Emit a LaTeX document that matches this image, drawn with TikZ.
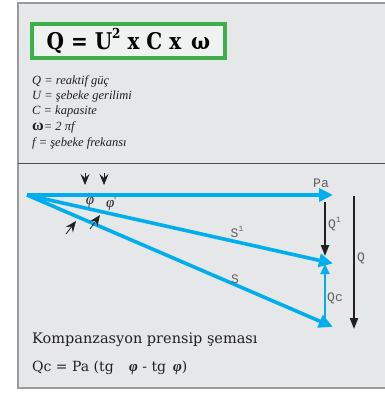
\documentclass[tikz,border=0pt]{standalone}
\usepackage{fontspec}
\setmainfont{DejaVu Serif}
\newfontfamily\legfont{Liberation Serif}
\newfontfamily\monof{Liberation Mono}
\newfontfamily\titlef{DejaVu Serif}
\usetikzlibrary{arrows.meta}
\definecolor{bgc}{HTML}{E6E7E8}
\definecolor{bordc}{HTML}{9A9A9A}
\definecolor{grn}{HTML}{3DAE49}
\definecolor{vblue}{HTML}{00AEEF}
\definecolor{dark}{HTML}{231F20}
\definecolor{lbl}{HTML}{5F5F5F}
\begin{document}
\begin{tikzpicture}[x=1pt,y=-1pt,
  vec/.style={vblue,line width=3.6pt,-{Triangle[length=14pt,width=13pt]},shorten >=-2pt},
  qvec/.style={vblue,line width=2pt,-{Triangle[length=10pt,width=9pt]}},
  bvec/.style={dark,line width=2pt,-{Triangle[length=11pt,width=8pt]}},
  tip/.style={dark,line width=0.8pt,-{Stealth[length=11pt,width=9pt,inset=4pt]}},
  leg/.style={anchor=west,inner sep=0pt,font=\legfont\itshape\fontsize{12.5}{13}\selectfont,text=dark},
  mono/.style={inner sep=0pt,font=\monof\fontsize{13}{13}\selectfont,text=lbl},
  phil/.style={inner sep=0pt,font=\legfont\itshape\fontsize{15}{15}\selectfont,text=dark}]
\useasboundingbox (0,0) rectangle (385,394);
\fill[white] (0,0) rectangle (385,394);
% outer panel
\fill[bgc] (18,3) rectangle (386,388);
\draw[bordc,line width=2.2pt] (386,3) -- (18,3) -- (18,388) -- (386,388);
\draw[dark!80,line width=1.2pt] (18,163.5) -- (386,163.5);
% title box
\node[draw=grn,line width=4pt,fill=bgc!60,minimum width=193pt,minimum height=34pt,inner sep=0pt] (title) at (128.5,41)
  {\scalebox{1}[1.15]{\titlef\bfseries\fontsize{20}{20}\selectfont Q = U\raisebox{0.45em}{\fontsize{12}{12}\selectfont 2} x C x\hspace{0.5em}ω}};
% legend
\node[leg] (l1) at (32,81) {Q = reaktif güç};
\node[leg] (l2) at (32,96) {U = şebeke gerilimi};
\node[leg] (l3) at (32,111) {C = kapasite};
\node[leg] (l4) at (32,127) {{\upshape\bfseries\fontsize{16}{16}\selectfont ω}= 2 \textit{π}f};
\node[leg] (l5) at (32,143) {f = şebeke frekansı};
% vector diagram
\coordinate (O) at (27,195);
\coordinate (PaE) at (331,195);
\coordinate (S1E) at (331,263);
\coordinate (SE) at (331,326);
\draw[vec] (O) -- (PaE);
\draw[vec] (O) -- (S1E);
\draw[vec] (O) -- (SE);
\coordinate (q1a) at (325,202);
\coordinate (q1b) at (325,256);
\draw[bvec] (q1a) -- (q1b);
\coordinate (qa) at (354,196);
\coordinate (qb) at (354,329);
\draw[bvec] (qa) -- (qb);
\coordinate (qca) at (325,318);
\coordinate (qcb) at (325,264);
\draw[qvec] (qca) -- (qcb);
% labels
\node[mono] (pa) at (321,183) {Pa};
\node[mono] (s1) at (237,232) {S\raisebox{0.45em}{\fontsize{8}{8}\selectfont 1}};
\node[mono] (s) at (235,279) {S};
\node[mono,anchor=west] (q1) at (328,224) {Q\raisebox{0.45em}{\fontsize{8}{8}\selectfont 1}};
\node[mono,anchor=west] (q) at (357,258) {Q};
\node[mono,anchor=west] (qc) at (327,298) {Qc};
% angle markers
\coordinate (m1a) at (85,173);
\coordinate (m1b) at (85,185);
\coordinate (m2a) at (104,173);
\coordinate (m2b) at (104,185);
\draw[tip] (m1a) -- (m1b);
\draw[tip] (m2a) -- (m2b);
\coordinate (m3a) at (66,234);
\coordinate (m3b) at (76,221);
\coordinate (m4a) at (90,229);
\coordinate (m4b) at (100,215);
\draw[tip] (m3a) -- (m3b);
\draw[tip] (m4a) -- (m4b);
\node[phil] (phi1) at (90,203) {φ};
\node[phil] (phi2) at (111,204) {φ\raisebox{0.3em}{\fontsize{9}{9}\selectfont\upshape '}};
% bottom texts
\node[anchor=west,inner sep=0pt,font=\fontsize{14.5}{15}\selectfont,text=dark] (cap) at (32,340) {Kompanzasyon prensip şeması};
\node[anchor=west,inner sep=0pt,font=\fontsize{14}{15}\selectfont,text=dark] (form) at (32,368) {Qc = Pa (tg\hspace{1.1em}{\legfont\itshape\bfseries\fontsize{15}{15}\selectfont φ} - tg\hspace{0.5em}{\legfont\itshape\bfseries\fontsize{15}{15}\selectfont φ})};
\end{tikzpicture}
\end{document}
